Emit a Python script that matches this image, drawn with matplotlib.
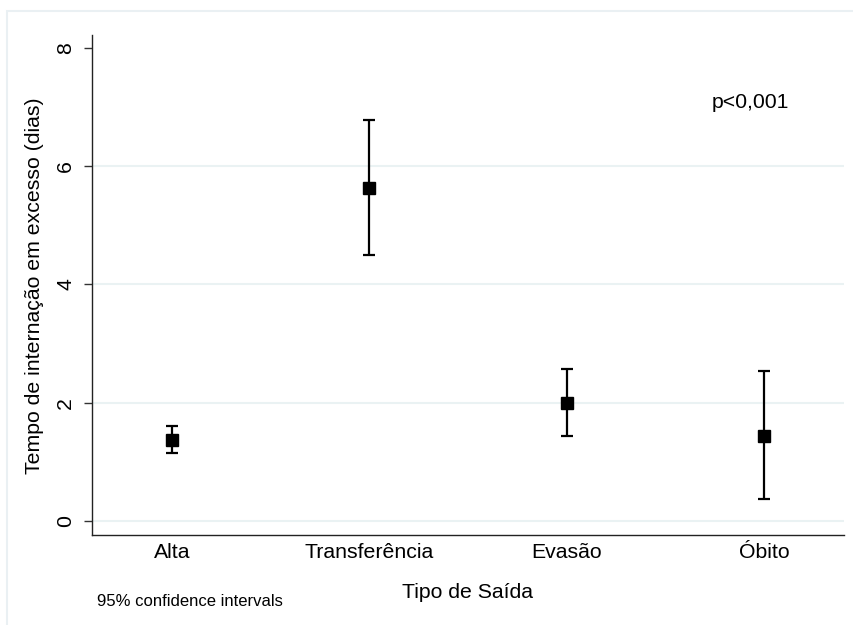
import matplotlib.pyplot as plt
from matplotlib.patches import Rectangle

plt.rcParams['font.family'] = ['Liberation Sans', 'DejaVu Sans']

# dados (média e IC 95%)
categorias = ['Alta', 'Transferência', 'Evasão', 'Óbito']
media = [1.37, 5.64, 2.00, 1.44]
ic_inf = [1.15, 4.50, 1.43, 0.37]
ic_sup = [1.61, 6.78, 2.57, 2.53]
yticks = [0, 2, 4, 6, 8]

W, H = 854, 625
fig = plt.figure(figsize=(W / 100, H / 100), dpi=100)
fig.patch.set_facecolor('white')

# moldura externa clara (estilo Stata)
fig.add_artist(Rectangle((7 / W, -0.01), 1.0, 1 - 11 / H + 0.01, transform=fig.transFigure,
                         fill=False, edgecolor='#eaf0f3', linewidth=1.5))

ax = fig.add_axes([92 / W, (H - 535) / H, (844 - 92) / W, (535 - 35) / H])
x = list(range(1, len(categorias) + 1))

for g in [0, 2, 4, 6]:
    ax.axhline(g, color='#eaf2f3', linewidth=1.5, zorder=0)

err_low = [m - l for m, l in zip(media, ic_inf)]
err_high = [u - m for m, u in zip(media, ic_sup)]
ax.errorbar(x, media, yerr=[err_low, err_high], fmt='s', color='black',
            markersize=9, ecolor='black', elinewidth=1.6, capsize=4.2, capthick=1.6)

ax.set_xlim(0.594, 4.406)
ax.set_ylim(-0.237, 8.22)
ax.set_xticks(x)
ax.set_xticklabels(categorias, fontsize=15.3)
ax.set_yticks(yticks)
ax.set_yticklabels([str(v) for v in yticks], fontsize=15.3, rotation=90, va='center')
ax.tick_params(axis='x', length=0, pad=6)
ax.tick_params(axis='y', length=6, width=1, color='#333333', pad=6)

for s in ['top', 'right']:
    ax.spines[s].set_visible(False)
for s in ['left', 'bottom']:
    ax.spines[s].set_linewidth(1.0)
    ax.spines[s].set_color('#222222')

fig.text(468 / W, 1 - 592 / H, 'Tipo de Saída', ha='center', va='center', fontsize=15.3)
fig.text(35 / W, 1 - 286 / H, 'Tempo de internação em excesso (dias)', ha='center', va='center',
         rotation=90, fontsize=15.3)
fig.text(97 / W, 1 - 601 / H, '95% confidence intervals', ha='left', va='center', fontsize=12)
ax.text(750 / W, 1 - 103 / H, 'p<0,001', transform=fig.transFigure, ha='center', va='center',
        fontsize=15.3)

fig.savefig('out.png', dpi=100)
